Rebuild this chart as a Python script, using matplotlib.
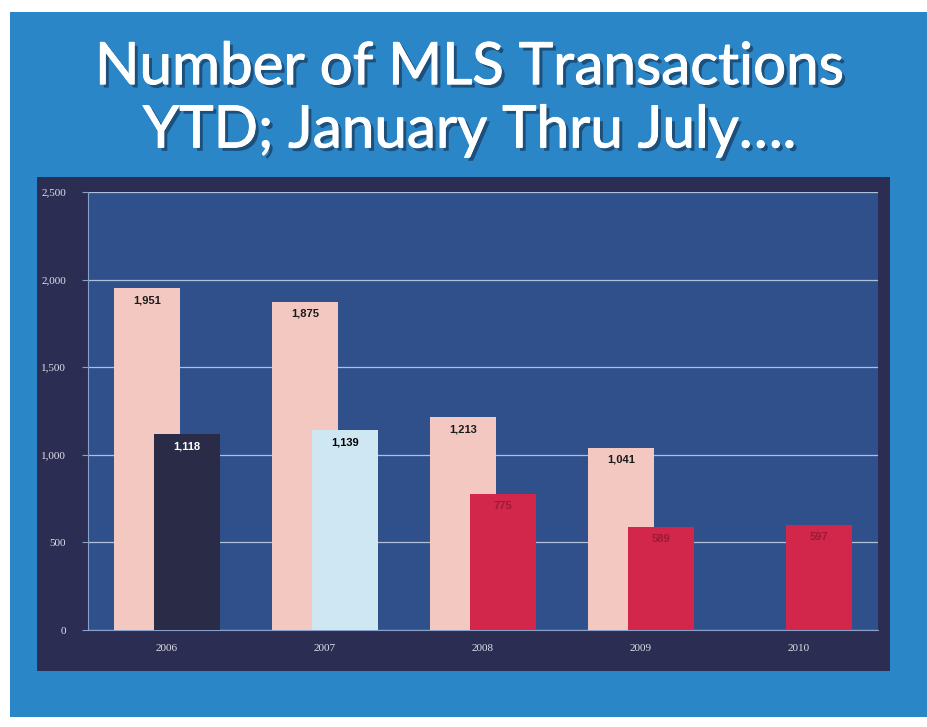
import matplotlib.pyplot as plt
import matplotlib.patheffects as pe
from matplotlib.patches import Rectangle

years = ['2006', '2007', '2008', '2009', '2010']
first = [1951, 1875, 1213, 1041, 0]          # pink bars (2010 has none)
second = [1118, 1139, 775, 589, 597]
first_labels = ['1,951', '1,875', '1,213', '1,041', '']
second_labels = ['1,118', '1,139', '775', '589', '597']
yticks = [0, 500, 1000, 1500, 2000, 2500]
ytick_labels = ['0', '500', '1,000', '1,500', '2,000', '2,500']

second_colors = ['#2a2b47', '#cfe7f3', '#d3264b', '#d3264b', '#d3264b']
second_text = ['white', 'black', '#9c1a36', '#9c1a36', '#9c1a36']

fig = plt.figure(figsize=(9.27, 7.27), dpi=100, facecolor='white')

# slide background and dark chart panel
fig.patches.append(Rectangle((0.011, 0.014), 0.989, 0.970, transform=fig.transFigure,
                             facecolor='#2b86c8', edgecolor='none', zorder=-10))
fig.patches.append(Rectangle((0.040, 0.077), 0.920, 0.680, transform=fig.transFigure,
                             facecolor='#2b2d52', edgecolor='none', zorder=-9))

shadow = [pe.withSimplePatchShadow(offset=(2.5, -2.5), shadow_rgbFace='#10223a', alpha=0.55),
          pe.withStroke(linewidth=0.7, foreground='white')]
fig.text(0.507, 0.907, 'Number of MLS Transactions', ha='center', va='center',
         fontsize=42, color='white', family='Lato', path_effects=shadow)
fig.text(0.507, 0.820, 'YTD; January Thru July\u2026.', ha='center', va='center',
         fontsize=42, color='white', family='Lato', path_effects=shadow)

ax = fig.add_axes([0.095, 0.1334, 0.852, 0.6025])
ax.set_facecolor('#30508c')

x = list(range(len(years)))
w, off = 0.42, 0.127
pink = ax.bar([i - off for i in x], first, width=w, color='#f3c8c0', zorder=3)
sec = ax.bar([i + off for i in x], second, width=w, color=second_colors, zorder=4)

for b, lab in zip(pink, first_labels):
    if lab:
        ax.text(b.get_x() + b.get_width() / 2, b.get_height() - 40, lab, ha='center', va='top',
                fontsize=8, fontweight='bold', color='#1a1a1a', family='Liberation Sans', zorder=5)
for b, lab, c in zip(sec, second_labels, second_text):
    ax.text(b.get_x() + b.get_width() / 2, b.get_height() - 40, lab, ha='center', va='top',
            fontsize=8, fontweight='bold', color=c, family='Liberation Sans', zorder=5)

ax.set_xlim(-0.5, 4.5)
ax.set_ylim(0, 2500)
ax.set_yticks(yticks, ytick_labels)
ax.set_xticks(x, years)
ax.yaxis.grid(True, color='#dde6f5', linewidth=0.9, alpha=0.75, zorder=1)
ax.set_axisbelow(True)
ax.tick_params(axis='y', colors='#8aa0c8', labelcolor='#e0e0ea', length=4, pad=12)
ax.tick_params(axis='x', length=0, labelcolor='#e0e0ea', pad=10)
for lab in ax.get_xticklabels() + ax.get_yticklabels():
    lab.set_family('Liberation Serif')
    lab.set_fontsize(8)
for s in ['top', 'right']:
    ax.spines[s].set_visible(False)
for s in ['left', 'bottom']:
    ax.spines[s].set_color('#8aa0c8')
    ax.spines[s].set_linewidth(0.8)

fig.savefig('out.png', dpi=100, facecolor='white')
